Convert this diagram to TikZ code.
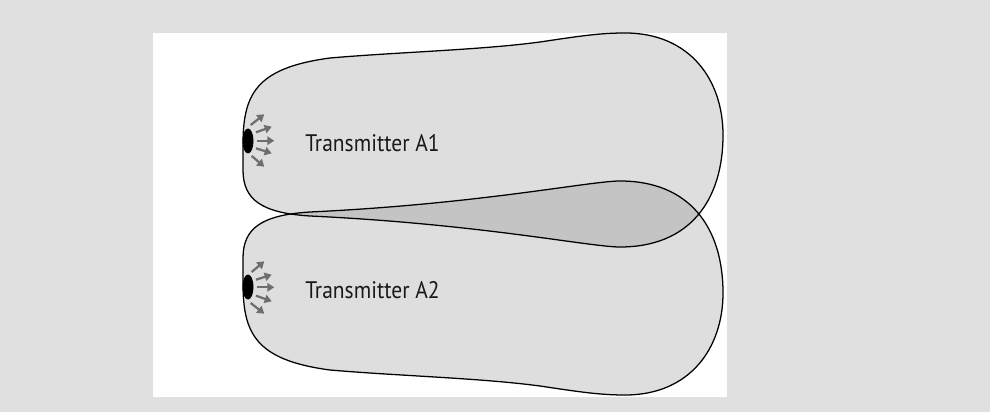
\documentclass[tikz,border=0pt]{standalone}
\usepackage{fontspec}
\newfontfamily\lblfont[FakeStretch=0.9]{PT Sans}
\usepackage{xcolor}
\usetikzlibrary{arrows.meta}
\definecolor{bggray}{HTML}{E0E0E0}
\definecolor{lobegray}{HTML}{DEDEDE}
\definecolor{overlapgray}{HTML}{C4C4C4}
\definecolor{raygray}{HTML}{6E6E6E}
\newcommand{\lobepath}{(243,145) .. controls (243,95) and (255,68) .. (330,58)
 .. controls (400,52) and (480,50) .. (540,42) .. controls (580,36) and (600,33) .. (625,33)
 .. controls (690,33) and (723,80) .. (723,135) .. controls (723,200) and (690,247) .. (620,247)
 .. controls (590,247) and (480,224) .. (310,216) .. controls (262,213) and (243,200) .. (243,170) -- cycle}
\newcommand{\emitter}{%
 \foreach \xa/\ya/\xb/\yb in {250.7/125/264.3/114.3, 256/132.3/271.7/126.7, 257.3/140.7/274.3/140.7,
  256/148.3/271.7/153.3, 251.7/156/264.3/166.7}
  \draw[ray] (\xa,\ya) -- (\xb,\yb);
 \fill (248,141) ellipse [x radius=5.5, y radius=12.5];}

\begin{document}
\begin{tikzpicture}[x=0.025cm, y=-0.025cm,
 lobe/.style={draw=black, line width=0.9pt},
 ray/.style={raygray, line width=1.6pt, -{Triangle[length=5pt, width=6pt]}},
 label/.style={font=\lblfont\fontsize{17pt}{20pt}\selectfont, text=black!90, inner sep=0pt, anchor=base west},
 flip/.style={shift={(0,428)}, yscale=-1}]
\useasboundingbox (0,0) rectangle (990,412);
\fill[bggray] (0,0) rectangle (990,412);
\fill[white] (153,33) rectangle (727,397);
\fill[lobegray] \lobepath;
\begin{scope}[flip]
 \fill[lobegray] \lobepath;
\end{scope}
\begin{scope}
 \clip \lobepath;
 \begin{scope}[flip]
  \fill[overlapgray] \lobepath;
 \end{scope}
\end{scope}
\draw[lobe] \lobepath;
\begin{scope}[flip]
 \draw[lobe] \lobepath;
 \emitter
\end{scope}
\emitter
\node[label] (labelA1) at (305,151.7) {Transmitter A1};
\node[label] (labelA2) at (305,298.5) {Transmitter A2};
\end{tikzpicture}
\end{document}
